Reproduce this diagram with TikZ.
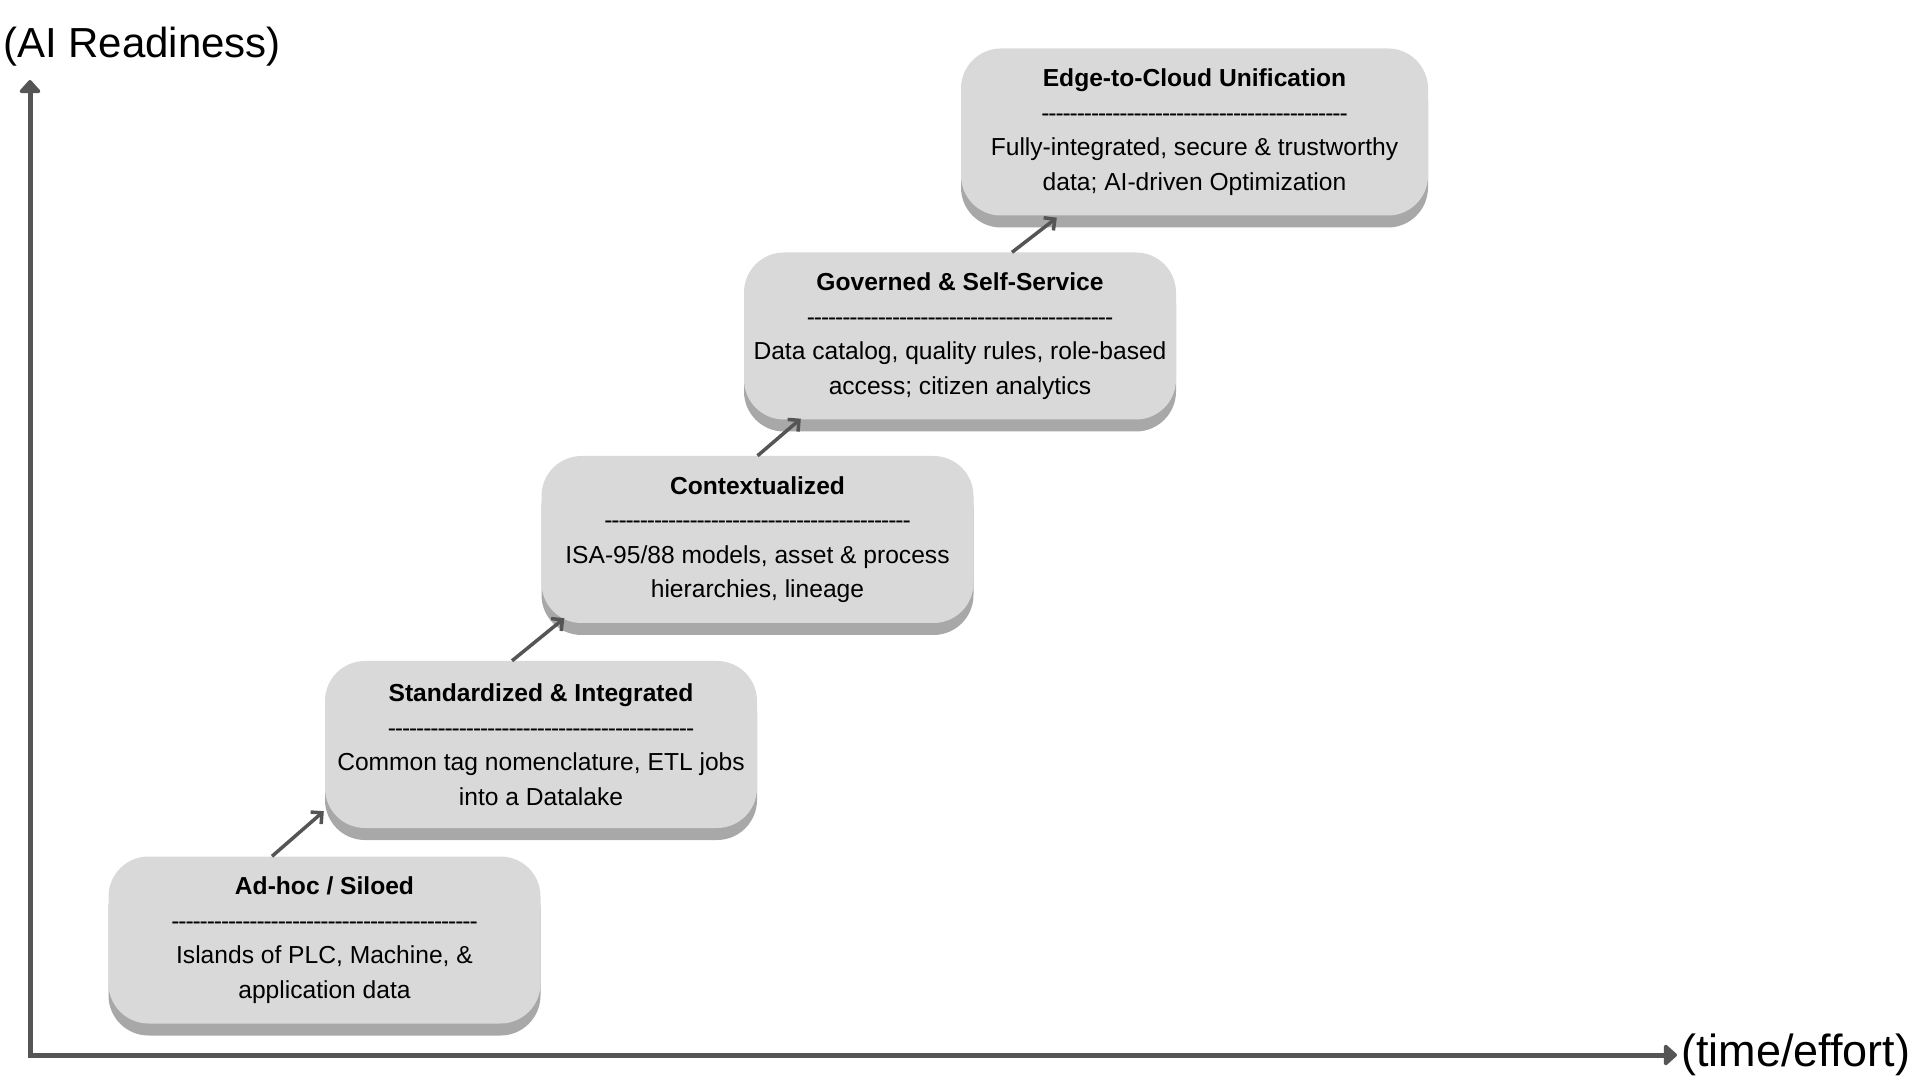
\documentclass[tikz,border=0pt]{standalone}
\usepackage{fontspec}
\usepackage{tikz}
\usetikzlibrary{arrows.meta, shadows}
\newfontfamily\labelfont{Liberation Sans}
\definecolor{stagefill}{HTML}{D9D9D9}
\definecolor{stageshade}{HTML}{A8A8A8}
\definecolor{axisgray}{HTML}{555555}
\newcommand{\sepline}{\foreach \k in {1,...,43}{\makebox[7.1pt]{-}}}
\tikzset{stage/.style = {rectangle, rounded corners=40pt, fill=stagefill, minimum width=432pt, minimum height=167pt, inner sep=0pt, align=center,
                         font=\labelfont\fontsize{24.6}{34.5}\selectfont,
                         drop shadow={shadow xshift=0pt, shadow yshift=-12pt, fill=stageshade, opacity=1}},
         stage arrow/.style = {draw=axisgray, line width=3.5pt, -{Straight Barb[length=8pt,width=16pt]}},
         axis/.style = {draw=axisgray, line width=5pt, line join=miter, {Triangle[length=14pt,width=24pt,round]}-{Triangle[length=14pt,width=24pt,round]}},
         axis label/.style = {anchor=base west, inner sep=0pt, font=\labelfont\fontsize{42}{50}\selectfont}}

\begin{document}
\begin{tikzpicture}[x=1pt,y=1pt]
                \useasboundingbox (0,0) rectangle (1920,1080);
                % axes
                \coordinate (origin) at (30,25);
                \coordinate (ytip) at (30,1000);
                \coordinate (xtip) at (1677,25);
                \draw [axis] (ytip) -- (origin) -- (xtip);
                \node [axis label] (ylabel) at (3,1022) {(AI Readiness)};
                \node [axis label,font=\labelfont\fontsize{45}{50}\selectfont] (xlabel) at (1681,14) {(time/effort)};
                % stages
                \node [stage] (b1) at (324.5,140) {\textbf{Ad-hoc / Siloed}\\\sepline\\Islands of PLC, Machine, \&\\application data};
                \node [stage] (b2) at (541,335.5) {\textbf{Standardized \& Integrated}\\\sepline\\Common tag nomenclature, ETL jobs\\into a Datalake};
                \node [stage] (b3) at (757.5,540.5) {\textbf{Contextualized}\\\sepline\\ISA-95/88 models, asset \& process\\hierarchies, lineage};
                \node [stage] (b4) at (960,744) {\textbf{Governed \& Self-Service}\\\sepline\\Data catalog, quality rules, role-based\\access; citizen analytics};
                \node [stage,minimum width=467pt] (b5) at (1194.5,948) {\textbf{Edge-to-Cloud Unification}\\\sepline\\Fully-integrated, secure \& trustworthy\\data; AI-driven Optimization};
                \foreach \a/\b/\sx/\tx/\ty in {b1/b2/-52.5/-1/17, b2/b3/-29/23/5, b3/b4/0/57/1, b4/b5/52/96/-2} {
                    \draw [stage arrow] ([xshift=\sx]\a.north) -- ([xshift=\tx,yshift=\ty]\b.south west);
                }
            \end{tikzpicture}
\end{document}
